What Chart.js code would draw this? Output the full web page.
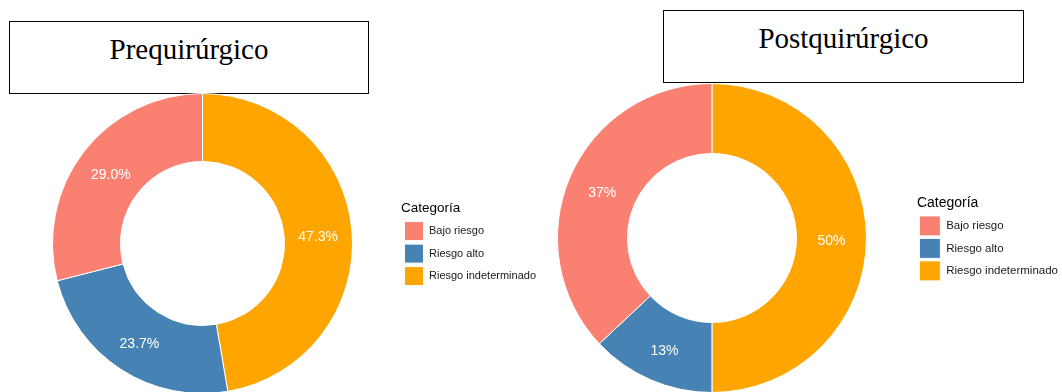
<!DOCTYPE html>
<html lang="es">
<head>
<meta charset="utf-8">
<title>Categoría de riesgo: prequirúrgico y postquirúrgico</title>
<script src="https://cdn.jsdelivr.net/npm/chart.js@4"></script>
<style>
  html, body { margin: 0; padding: 0; background: #fff; }
  body { width: 1062px; height: 392px; position: relative; overflow: hidden; }
  .panel-title {
    position: absolute; box-sizing: border-box;
    border: 1px solid #000; background: #fff;
    font-family: "Liberation Serif", "Times New Roman", serif;
    font-size: 29px; color: #000; text-align: center;
  }
  .panel-title span { position: absolute; left: 0; right: 0; top: 9px; line-height: 36px; }
  canvas { position: absolute; }
</style>
</head>
<body>
<div class="panel-title" style="left:9px; top:21px; width:360px; height:73px;"><span>Prequirúrgico</span></div>
<div class="panel-title" style="left:663px; top:10px; width:361px; height:73px;"><span>Postquirúrgico</span></div>
<canvas id="pre" width="546" height="301" style="left:0px; top:93px;"></canvas>
<canvas id="post" width="561" height="310" style="left:507px; top:83px;"></canvas>
<script>
// Categories in legend order
const categories = ['Bajo riesgo', 'Riesgo alto', 'Riesgo indeterminado'];
const categoryColors = ['#FA8072', '#4682B4', '#FFA500'];

// Percentages per category
const preValues = [29.0, 23.7, 47.3];
const postValues = [37, 13, 50];

const legendTitle = 'Categoría';

// Percentage labels written on each slice, at the middle of the ring
const sliceLabels = {
  id: 'sliceLabels',
  afterDatasetsDraw(chart, args, opts) {
    const ctx = chart.ctx;
    const meta = chart.getDatasetMeta(0);
    const values = chart.data.datasets[0].data;
    ctx.save();
    ctx.font = opts.font;
    ctx.fillStyle = opts.color;
    ctx.textAlign = 'center';
    ctx.textBaseline = 'middle';
    meta.data.forEach((arc, i) => {
      const p = arc.tooltipPosition();
      ctx.fillText(values[i].toFixed(opts.decimals) + '%', p.x, p.y + opts.dy);
    });
    ctx.restore();
  }
};

// Slices run clockwise from 12 o'clock, last category first
function makeDonut(id, values, cfg) {
  const order = [2, 1, 0];
  return new Chart(document.getElementById(id), {
    type: 'doughnut',
    data: {
      labels: order.map(i => categories[i]),
      datasets: [{
        data: order.map(i => values[i]),
        backgroundColor: order.map(i => categoryColors[i]),
        borderColor: '#ffffff',
        borderWidth: 1,
        hoverOffset: 0,
        offset: 0
      }]
    },
    options: {
      responsive: false,
      devicePixelRatio: 1,
      animation: false,
      events: [],
      radius: cfg.radius,
      cutout: cfg.cutout,
      layout: { padding: cfg.padding },
      plugins: {
        tooltip: { enabled: false },
        legend: {
          position: 'right',
          align: 'center',
          reverse: true,
          title: {
            display: true,
            text: legendTitle,
            position: 'start',
            color: '#000',
            font: { family: '"Liberation Sans", Arial, sans-serif', size: cfg.titleSize },
            padding: { top: 4, bottom: 0 }
          },
          labels: {
            boxWidth: cfg.boxW,
            boxHeight: cfg.boxH,
            padding: cfg.gap,
            color: '#1a1a1a',
            font: { family: '"Liberation Sans", Arial, sans-serif', size: cfg.labelSize }
          }
        },
        sliceLabels: {
          font: '14px "Liberation Sans", Arial, sans-serif',
          color: '#ffffff',
          decimals: cfg.decimals,
          dy: 3
        }
      }
    },
    plugins: [sliceLabels]
  });
}

makeDonut('pre', preValues, {
  radius: 150, cutout: 82, padding: { left: 4 },
  titleSize: 13.5, labelSize: 11, boxW: 19, boxH: 19, gap: 3.5, decimals: 1
});
makeDonut('post', postValues, {
  radius: 154.5, cutout: 84.5, padding: { left: 0 },
  titleSize: 14, labelSize: 11.5, boxW: 21, boxH: 20, gap: 2.5, decimals: 0
});
</script>
</body>
</html>
